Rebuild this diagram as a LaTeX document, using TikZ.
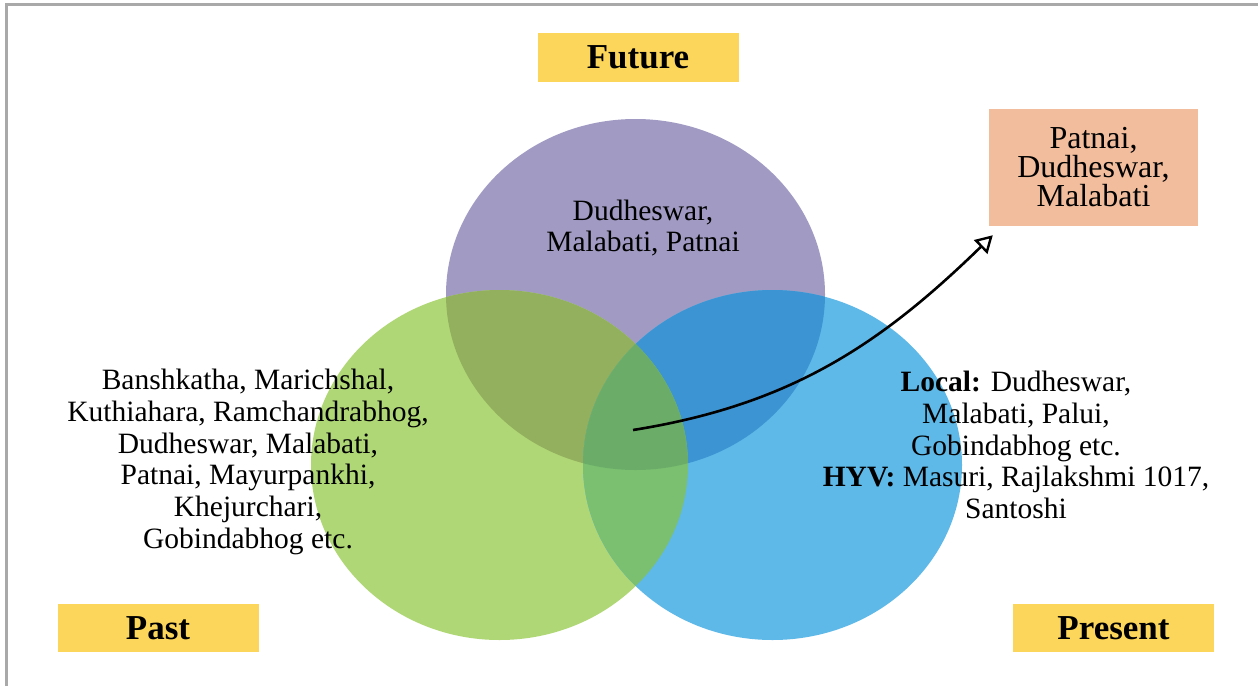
\documentclass[tikz,border=0pt]{standalone}
\usepackage{fontspec}
\setmainfont{Liberation Serif}
\usetikzlibrary{arrows.meta}

\definecolor{framegray}{HTML}{A9A9A9}
\definecolor{cpurple}{HTML}{A19BC4}
\definecolor{cgreen}{HTML}{B0D776}
\definecolor{cblue}{HTML}{5EB9E8}
\definecolor{cpg}{HTML}{92B05E}
\definecolor{cpb}{HTML}{3C94D2}
\definecolor{cgb}{HTML}{7AC070}
\definecolor{cpgb}{HTML}{6BAD68}
\definecolor{labelyellow}{HTML}{FCD65A}
\definecolor{resultorange}{HTML}{F2BD9C}

\tikzset{
  bodytext/.style={align=center, inner sep=0pt, font=\fontsize{29.5}{31.8}\selectfont},
  periodlabel/.style={fill=labelyellow, inner sep=0pt, minimum width=201pt, minimum height=48.5pt,
    font=\fontsize{35}{40}\selectfont\bfseries},
  resultbox/.style={fill=resultorange, inner sep=0pt, minimum width=209pt, minimum height=117pt,
    align=center, font=\fontsize{32}{29}\selectfont},
  flowarrow/.style={line width=2.6pt, -{Triangle[open, length=17pt, width=19pt, line width=2.4pt]}}
}

\newcommand{\futureshape}{(635.5,294.5) ellipse [x radius=189.5pt, y radius=175.5pt]}
\newcommand{\pastshape}{(499.5,465) ellipse [x radius=188.5pt, y radius=175pt]}
\newcommand{\presentshape}{(772.5,465) ellipse [x radius=189.5pt, y radius=175pt]}

\begin{document}
\begin{tikzpicture}[x=1pt, y=-1pt]
\useasboundingbox (0,0) rectangle (1258,686);
\fill[white] (0,0) rectangle (1258,686);
\draw[framegray, line width=2.5pt] (6.5,686) -- (6.5,4.5) -- (1258,4.5);

% the three sets
\fill[cpurple] \futureshape;
\fill[cgreen] \pastshape;
\fill[cblue] \presentshape;

% pairwise overlaps
\begin{scope}
  \clip \futureshape;
  \fill[cpg] \pastshape;
  \fill[cpb] \presentshape;
\end{scope}
\begin{scope}
  \clip \pastshape;
  \fill[cgb] \presentshape;
\end{scope}
% overlap of all three
\begin{scope}
  \clip \futureshape;
  \clip \pastshape;
  \fill[cpgb] \presentshape;
\end{scope}

% period labels
\node[periodlabel] (future) at (638,57.5) {Future};
\node[periodlabel] (past) at (158,628) {Past};
\node[periodlabel] (present) at (1113.5,628) {Present};

% varieties in each period
\node[bodytext] (futuretext) at (643,228) {Dudheswar,\\Malabati, Patnai};
\node[bodytext] (pasttext) at (248,462) {Banshkatha, Marichshal,\\Kuthiahara, Ramchandrabhog,\\Dudheswar, Malabati,\\Patnai, Mayurpankhi,\\Khejurchari,\\Gobindabhog etc.};
\node[bodytext] (presenttext) at (1016,445) {\textbf{Local:} Dudheswar,\\Malabati, Palui,\\Gobindabhog etc.\\\textbf{HYV:} Masuri, Rajlakshmi 1017,\\Santoshi};

% varieties common to all periods
\node[resultbox] (common) at (1093.5,167.5) {Patnai,\\Dudheswar,\\Malabati};

\coordinate (centre) at (633,430);
\coordinate (target) at ([shift={(4pt,-9pt)}]common.south west);
\draw[flowarrow] (centre) .. controls (790,405) and (880,345) .. (target);
\end{tikzpicture}
\end{document}
